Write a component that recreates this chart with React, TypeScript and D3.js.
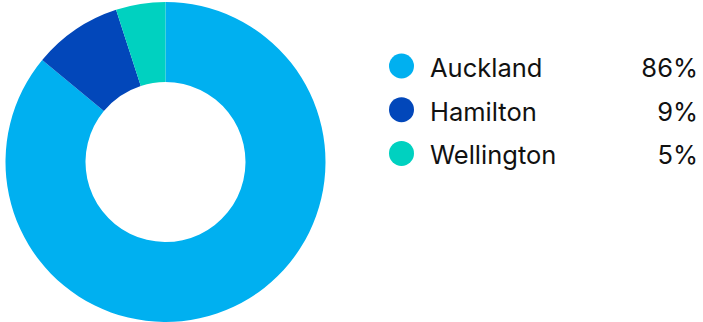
import React from "react";
import * as d3 from "d3";

const categories = ["Auckland", "Hamilton", "Wellington"];
const values = [86, 9, 5];
const labels = ["86%", "9%", "5%"];
const colors = ["#00B0F0", "#0247BA", "#00D1C0"];

export default function App() {
  const width = 703;
  const height = 322;
  const cx = 165.5;
  const cy = 162;
  const outerR = 160;
  const innerR = 80;

  const pie = d3.pie<number>().sort(null).value((d) => d);
  const arcs = pie(values);
  const arc = d3.arc<d3.PieArcDatum<number>>().innerRadius(innerR).outerRadius(outerR);

  const legendY = d3.scaleLinear().domain([0, 1]).range([66, 109.7]);

  return (
    <svg
      width={width}
      height={height}
      style={{ position: "absolute", left: 0, top: 0 }}
      fontFamily="Inter, 'Noto Sans', sans-serif"
    >
      <g transform={`translate(${cx},${cy})`}>
        {arcs.map((a, i) => (
          <path key={categories[i]} d={arc(a) || ""} fill={colors[i]} />
        ))}
      </g>
      {categories.map((c, i) => {
        const y = legendY(i);
        return (
          <g key={c}>
            <circle cx={401.5} cy={y} r={12.5} fill={colors[i]} />
            <text x={430} y={y + 11} fontSize={25.5} fill="#111">
              {c}
            </text>
            <text x={698} y={y + 11} fontSize={25.5} fill="#111" textAnchor="end">
              {labels[i]}
            </text>
          </g>
        );
      })}
    </svg>
  );
}
